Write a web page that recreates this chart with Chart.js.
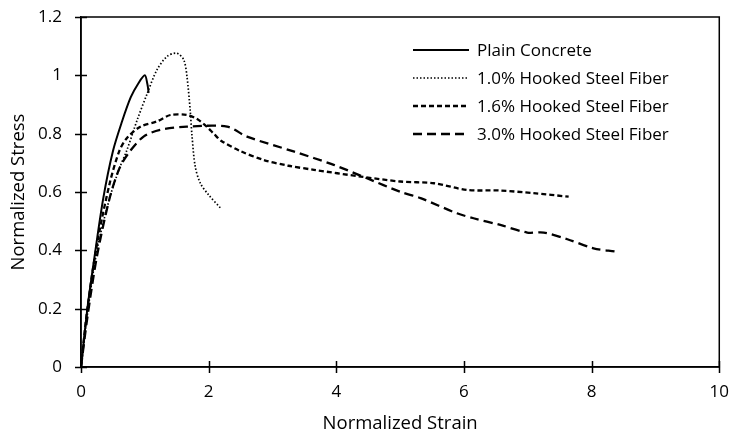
<!DOCTYPE html>
<html>
<head>
<meta charset="utf-8">
<script src="https://cdn.jsdelivr.net/npm/chart.js@4"></script>
<style>
  html, body { margin: 0; padding: 0; background: #fff; }
  #wrap { width: 729px; height: 437px; }
</style>
</head>
<body>
<div id="wrap"><canvas id="stressChart" width="729" height="437"></canvas></div>
<script>
// ---------- DATA ----------
const seriesNames = [
  "Plain Concrete",
  "1.0% Hooked Steel Fiber",
  "1.6% Hooked Steel Fiber",
  "3.0% Hooked Steel Fiber"
];

const plainStrain = [0, 0.1, 0.2, 0.35, 0.5, 0.64, 0.78, 0.9, 1.0, 1.04, 1.06];
const plainStress = [0, 0.2, 0.36, 0.58, 0.74, 0.84, 0.925, 0.973, 1.0, 0.97, 0.94];

const hs10Strain = [0, 0.1, 0.25, 0.45, 0.6, 0.72, 0.88, 1.04, 1.19, 1.35, 1.5, 1.61, 1.66, 1.71, 1.74, 1.79, 1.87, 2.0, 2.19];
const hs10Stress = [0, 0.18, 0.4, 0.58, 0.68, 0.744, 0.847, 0.939, 1.019, 1.065, 1.076, 1.053, 0.996, 0.882, 0.79, 0.687, 0.63, 0.59, 0.544];

const hs16Strain = [0, 0.1, 0.25, 0.45, 0.6, 0.72, 0.93, 1.19, 1.4, 1.66, 1.82, 1.97, 2.08, 2.2, 2.5, 2.86, 3.25, 3.65, 4.38, 5.0, 5.53, 6.05, 6.57, 7.09, 7.64];
const hs16Stress = [0, 0.2, 0.42, 0.63, 0.74, 0.785, 0.824, 0.842, 0.864, 0.864, 0.85, 0.824, 0.8, 0.775, 0.74, 0.71, 0.69, 0.676, 0.653, 0.636, 0.63, 0.607, 0.605, 0.596, 0.584];

const hs30Strain = [0, 0.1, 0.25, 0.45, 0.6, 0.75, 0.98, 1.24, 1.66, 2.29, 2.6, 3.33, 3.96, 4.48, 5.0, 5.32, 5.89, 6.15, 6.57, 6.99, 7.25, 7.62, 8.03, 8.37];
const hs30Stress = [0, 0.17, 0.38, 0.58, 0.68, 0.735, 0.79, 0.813, 0.824, 0.824, 0.79, 0.739, 0.693, 0.647, 0.601, 0.579, 0.527, 0.51, 0.487, 0.461, 0.461, 0.438, 0.407, 0.396];

const xTicks = [0, 2, 4, 6, 8, 10];
const yTicks = [0, 0.2, 0.4, 0.6, 0.8, 1, 1.2];

const FONT = "Open Sans";
const FONT_SIZE = 17;
const TITLE_SIZE = 18.5;

function toPoints(xs, ys) {
  return xs.map((x, i) => ({ x, y: ys[i] }));
}

const lineStyles = [
  { dash: [], width: 2 },
  { dash: [1.5, 2], width: 1.7 },
  { dash: [5, 3], width: 2.3 },
  { dash: [9, 5], width: 2.3 }
];

const seriesData = [
  toPoints(plainStrain, plainStress),
  toPoints(hs10Strain, hs10Stress),
  toPoints(hs16Strain, hs16Stress),
  toPoints(hs30Strain, hs30Stress)
];

const datasets = seriesData.map((data, i) => ({
  label: seriesNames[i],
  data,
  borderColor: "#000",
  borderWidth: lineStyles[i].width,
  borderDash: lineStyles[i].dash,
  pointRadius: 0,
  tension: 0.3,
  fill: false
}));

// ---------- PLOT FRAME, CROSSING TICKS, LEGEND ----------
const framePlugin = {
  id: "frame",
  afterDraw(chart) {
    const { ctx, chartArea: a, scales } = chart;
    ctx.save();
    ctx.strokeStyle = "#000";
    ctx.lineWidth = 1.5;
    ctx.strokeRect(a.left, a.top, a.right - a.left, a.bottom - a.top);

    // tick marks straddle the axis lines
    ctx.beginPath();
    xTicks.forEach(v => {
      const px = Math.round(scales.x.getPixelForValue(v)) + 0.5;
      ctx.moveTo(px, a.bottom + 6);
      ctx.lineTo(px, a.bottom - 6);
    });
    yTicks.forEach(v => {
      const py = Math.round(scales.y.getPixelForValue(v)) + 0.5;
      ctx.moveTo(a.left - 6, py);
      ctx.lineTo(a.left + 6, py);
    });
    ctx.stroke();

    // legend
    const lx = 413, lw = 56, tx = 477;
    ctx.font = FONT_SIZE + "px '" + FONT + "'";
    ctx.fillStyle = "#000";
    ctx.textBaseline = "middle";
    datasets.forEach((ds, i) => {
      const y = 50 + i * 28;
      ctx.beginPath();
      ctx.setLineDash(ds.borderDash);
      ctx.lineWidth = ds.borderWidth;
      ctx.moveTo(lx, y);
      ctx.lineTo(lx + lw, y);
      ctx.stroke();
      ctx.setLineDash([]);
      ctx.fillText(ds.label, tx, y + 1);
    });
    ctx.restore();
  }
};

new Chart(document.getElementById("stressChart"), {
  type: "line",
  data: { datasets },
  options: {
    responsive: false,
    animation: false,
    devicePixelRatio: 1,
    layout: { padding: { left: 0, right: 9, top: 17, bottom: 0 } },
    plugins: {
      legend: { display: false },
      tooltip: { enabled: false }
    },
    scales: {
      x: {
        type: "linear",
        min: 0,
        max: 10,
        afterBuildTicks(scale) {
          scale.ticks = xTicks.map(v => ({ value: v }));
        },
        afterFit(scale) { scale.height = 70; },
        grid: {
          drawOnChartArea: false,
          drawTicks: true,
          tickLength: 15,
          tickColor: "rgba(0,0,0,0)"
        },
        border: { color: "#000", width: 1.5 },
        ticks: {
          color: "#000",
          font: { family: FONT, size: FONT_SIZE },
          padding: 0,
          maxRotation: 0
        },
        title: {
          display: true,
          text: "Normalized Strain",
          color: "#000",
          font: { family: FONT, size: TITLE_SIZE },
          padding: { top: 4, bottom: 2 }
        }
      },
      y: {
        type: "linear",
        min: 0,
        max: 1.2,
        afterBuildTicks(scale) {
          scale.ticks = yTicks.map(v => ({ value: v }));
        },
        afterFit(scale) { scale.width = 81; },
        grid: {
          drawOnChartArea: false,
          drawTicks: true,
          tickLength: 19,
          tickColor: "rgba(0,0,0,0)"
        },
        border: { color: "#000", width: 1.5 },
        ticks: {
          color: "#000",
          font: { family: FONT, size: FONT_SIZE },
          padding: 0,
          callback: v => String(Math.round(v * 10) / 10)
        },
        title: {
          display: true,
          text: "Normalized Stress",
          color: "#000",
          font: { family: FONT, size: TITLE_SIZE },
          padding: { top: 8, bottom: 0 }
        }
      }
    }
  },
  plugins: [framePlugin]
});
</script>
</body>
</html>
